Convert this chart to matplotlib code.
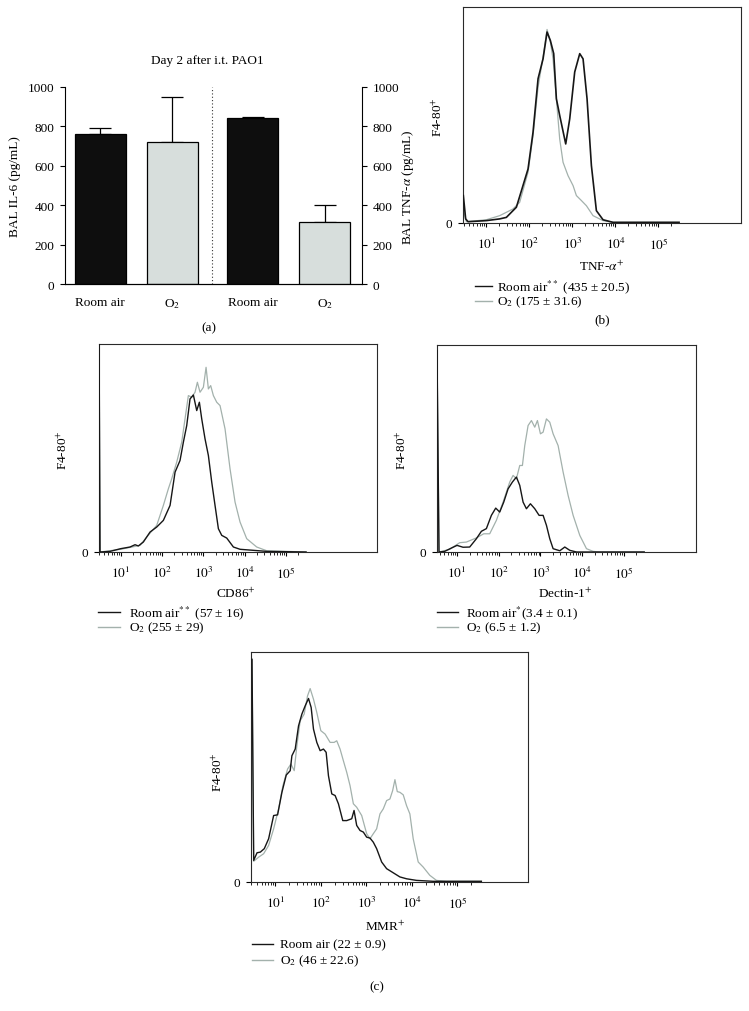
import numpy as np
import matplotlib
matplotlib.use('Agg')
import matplotlib.pyplot as plt
from matplotlib.lines import Line2D
from matplotlib.ticker import FixedLocator, NullFormatter

plt.rcParams['font.family'] = ['Liberation Serif', 'DejaVu Serif']
plt.rcParams['mathtext.fontset'] = 'stix'
plt.rcParams['font.size'] = 9.5

# ---------------- data ----------------
bar_labels = ['Room air', 'O$_2$', 'Room air', 'O$_2$']
il6_means = [762, 720]
il6_err = [28, 227]
tnf_means = [841, 313]
tnf_err = [5, 87]

# histograms: x = log10(fluorescence), y = % of max scale
tnf_room_x = [0.465, 0.519, 0.574, 1.0, 1.31, 1.465, 1.698, 1.969, 2.085, 2.202, 2.318, 2.411, 2.488, 2.566, 2.628,
              2.705, 2.845, 2.938, 3.054, 3.171, 3.248, 3.341, 3.442, 3.558, 3.713, 3.946, 5.48]
tnf_room_y = [12.7, 1.9, 0.6, 1.1, 1.9, 2.6, 7.3, 25.0, 42.0, 66.8, 76.0, 88.4, 84.5, 78.4, 57.5,
              49.8, 36.6, 48.2, 69.9, 78.4, 76.0, 57.5, 26.6, 5.7, 1.5, 0.3, 0.3]
tnf_o2_x = [0.465, 0.535, 1.0, 1.31, 1.62, 1.775, 1.969, 2.085, 2.202, 2.318, 2.411, 2.488, 2.55, 2.628, 2.705,
            2.783, 2.899, 3.016, 3.093, 3.209, 3.326, 3.48, 3.713, 3.946, 5.48]
tnf_o2_y = [6.0, 0.6, 1.5, 3.4, 6.5, 9.6, 23.5, 40.5, 62.9, 76.8, 89.6, 83.8, 76.0, 57.5, 38.9,
            28.1, 21.9, 17.3, 12.7, 10.4, 8.0, 3.4, 1.1, 0.3, 0.3]

cd86_room_x = [0.476, 0.5, 0.742, 1.0, 1.226, 1.347, 1.427, 1.548, 1.71, 1.871, 2.032, 2.194, 2.315, 2.435, 2.516,
               2.597, 2.677, 2.758, 2.839, 2.903, 2.96, 3.04, 3.121, 3.202, 3.282, 3.363, 3.444, 3.565, 3.726,
               3.887, 4.21, 4.532, 5.484]
cd86_room_y = [105, 0, 0.3, 1.6, 2.4, 3.5, 2.9, 4.8, 9.6, 12.0, 15.2, 22.4, 38.4, 44.0, 52.8,
               60.8, 73.6, 75.5, 68.0, 72.0, 64.0, 54.4, 46.4, 33.6, 22.4, 11.2, 8.0, 6.7, 2.4,
               1.3, 0.8, 0.3, 0]
cd86_o2_x = [0.476, 0.5, 1.0, 1.468, 1.629, 1.871, 2.032, 2.153, 2.234, 2.355, 2.476, 2.556, 2.637, 2.718, 2.798,
             2.855, 2.919, 3.0, 3.065, 3.121, 3.177, 3.242, 3.323, 3.403, 3.524, 3.645, 3.766, 3.887, 4.048,
             4.29, 4.532, 5.484]
cd86_o2_y = [105, 0, 1.3, 3.2, 7.2, 12.8, 22.4, 30.4, 35.2, 43.2, 52.8, 64.0, 75.2, 74.4, 76.8,
             81.6, 76.8, 79.2, 88.8, 78.4, 80.0, 75.2, 72.0, 70.4, 59.2, 40.0, 24.0, 14.4, 6.4,
             2.4, 0.6, 0]

dec_room_x = [0.52, 0.568, 0.704, 0.864, 1.0, 1.144, 1.304, 1.464, 1.584, 1.704, 1.824, 1.928, 2.024, 2.12, 2.224,
              2.328, 2.424, 2.504, 2.584, 2.664, 2.76, 2.864, 2.968, 3.064, 3.144, 3.224, 3.304, 3.464, 3.584,
              3.704, 3.864, 5.488]
dec_room_y = [97.3, 0, 0.3, 1.9, 3.2, 2.3, 2.4, 6.4, 10.0, 11.3, 17.7, 21.2, 19.3, 24.1, 30.5,
              33.8, 36.2, 32.2, 24.1, 20.9, 23.3, 20.9, 17.7, 17.7, 12.9, 6.4, 1.6, 0.6, 2.4,
              0.8, 0, 0]
dec_o2_x = [0.52, 0.568, 0.824, 1.064, 1.224, 1.464, 1.64, 1.784, 1.944, 2.104, 2.264, 2.344, 2.424, 2.504, 2.568,
            2.624, 2.704, 2.784, 2.864, 2.928, 3.0, 3.064, 3.144, 3.224, 3.304, 3.424, 3.544, 3.664, 3.784,
            3.944, 4.104, 4.264, 4.424, 5.488]
dec_o2_y = [97.3, 0, 1.3, 4.5, 4.8, 6.8, 8.8, 8.8, 15.3, 24.1, 33.8, 37.0, 35.4, 41.8, 41.8,
            51.4, 61.1, 63.5, 60.3, 63.5, 57.1, 57.9, 64.3, 62.7, 57.1, 51.4, 38.6, 27.3, 17.7,
            8.0, 1.6, 0.3, 0, 0]

mmr_room_x = [0.489, 0.526, 0.599, 0.672, 0.759, 0.854, 0.964, 1.051, 1.146, 1.241, 1.328, 1.365, 1.438, 1.511,
              1.584, 1.657, 1.73, 1.788, 1.839, 1.912, 1.985, 2.058, 2.117, 2.168, 2.241, 2.314, 2.387, 2.482,
              2.569, 2.679, 2.73, 2.788, 2.861, 2.934, 3.007, 3.08, 3.153, 3.226, 3.336, 3.445, 3.591, 3.737,
              3.883, 4.102, 4.467, 5.526]
mmr_room_y = [96.8, 9.4, 12.7, 13.0, 14.5, 18.8, 28.9, 29.2, 39.0, 46.5, 48.4, 54.9, 57.8, 67.9,
              73.0, 76.6, 79.8, 75.9, 66.5, 60.7, 57.1, 57.8, 56.4, 46.2, 38.3, 37.6, 34.0, 26.7,
              26.7, 27.5, 31.1, 24.6, 22.4, 21.7, 19.5, 19.1, 17.3, 14.5, 8.7, 5.8, 4.0, 2.2,
              1.4, 0.7, 0.3, 0.3]
mmr_o2_x = [0.489, 0.526, 0.635, 0.745, 0.854, 0.964, 1.073, 1.168, 1.27, 1.343, 1.416, 1.474, 1.547, 1.635,
            1.708, 1.766, 1.839, 1.912, 2.0, 2.095, 2.204, 2.292, 2.35, 2.423, 2.496, 2.569, 2.642, 2.715,
            2.788, 2.898, 3.007, 3.08, 3.153, 3.226, 3.299, 3.372, 3.445, 3.518, 3.577, 3.628, 3.679, 3.737,
            3.81, 3.883, 3.956, 4.029, 4.139, 4.248, 4.394, 4.54, 4.759, 5.526]
mmr_o2_y = [96.8, 9.0, 10.8, 12.3, 15.9, 23.1, 31.8, 41.9, 49.1, 51.3, 48.4, 59.2, 70.1, 73.0,
            80.9, 84.1, 79.5, 73.7, 65.8, 64.3, 60.7, 60.7, 61.4, 57.8, 52.7, 47.7, 41.9, 34.0,
            32.5, 28.9, 21.0, 18.8, 21.0, 23.1, 29.6, 31.8, 35.4, 36.1, 39.7, 44.5, 39.3, 39.0,
            37.9, 33.2, 29.6, 18.8, 8.7, 6.5, 2.9, 0.7, 0.3, 0.3]

tnf_legend = ['Room air$^{**}$ (435 ± 20.5)', 'O$_2$ (175 ± 31.6)']
cd86_legend = ['Room air$^{**}$ (57 ± 16)', 'O$_2$ (255 ± 29)']
dec_legend = ['Room air$^{*}$(3.4 ± 0.1)', 'O$_2$ (6.5 ± 1.2)']
mmr_legend = ['Room air (22 ± 0.9)', 'O$_2$ (46 ± 22.6)']

# ---------------- style ----------------
BLACK = '#161616'
GRAY = '#a3b1ac'
BAR_DARK = '#0e0e0e'
BAR_LIGHT = '#d7dedc'
FS = 9.5

W, H = 749, 1012
fig = plt.figure(figsize=(W / 100, H / 100), dpi=100)


def ax_px(l, t, r, b):
    return fig.add_axes([l / W, 1 - b / H, (r - l) / W, (b - t) / H])


def txt(x, y, s, ha='center', va='center', **kw):
    fig.text(x / W, 1 - y / H, s, ha=ha, va=va, fontsize=kw.pop('fontsize', FS), **kw)


# ---------------- panel (a) ----------------
bar_pos = [0.49, 1.49, 2.61, 3.61]
bw = 0.71
axa = ax_px(65, 88, 362, 285)
axa.bar(bar_pos[:2], il6_means, width=bw, color=[BAR_DARK, BAR_LIGHT], edgecolor='black', linewidth=0.9, zorder=2)
axa.errorbar(bar_pos[:2], il6_means, yerr=[[0, 0], il6_err], fmt='none', ecolor='black',
             elinewidth=0.9, capsize=8, capthick=0.9, zorder=1)
axr = axa.twinx()
axr.bar(bar_pos[2:], tnf_means, width=bw, color=[BAR_DARK, BAR_LIGHT], edgecolor='black', linewidth=0.9, zorder=2)
axr.errorbar(bar_pos[2:], tnf_means, yerr=[[0, 0], tnf_err], fmt='none', ecolor='black',
             elinewidth=0.9, capsize=8, capthick=0.9, zorder=1)
for a in (axa, axr):
    a.set_xlim(0, 4.125)
    a.set_ylim(0, 1000)
    a.set_yticks([0, 200, 400, 600, 800, 1000])
    a.spines['top'].set_visible(False)
    a.tick_params(axis='y', direction='out', length=3.6, width=0.8, pad=4, labelsize=FS)
    for s in a.spines.values():
        s.set_linewidth(0.8)
axa.spines['right'].set_visible(False)
axr.spines['left'].set_visible(False)
axa.set_xticks(bar_pos)
axa.set_xticklabels(bar_labels, fontsize=FS)
axa.tick_params(axis='x', length=0, pad=9)
axr.tick_params(axis='x', length=0)
axa.axvline(2.04, ymin=0, ymax=1.0, ls=(0, (1, 2)), color='#333333', lw=0.8)

txt(207, 61, 'Day 2 after i.t. PAO1')
txt(15, 187, 'BAL IL-6 (pg/mL)', rotation=90)
txt(408, 187, r'BAL TNF-$\alpha$ (pg/mL)', rotation=90)
txt(209, 328, '(a)')


# ---------------- histogram panels ----------------
def hist_panel(box, lims, rx, ry, ox, oy, lw_black=1.0):
    ax = ax_px(*box)
    ax.plot(10 ** np.array(ox), oy, color=GRAY, lw=0.9, zorder=2)
    ax.plot(10 ** np.array(rx), ry, color=BLACK, lw=lw_black, zorder=3)
    ax.set_xscale('log')
    ax.set_xlim(10 ** lims[0], 10 ** lims[1])
    ax.set_ylim(0, 100)
    ax.xaxis.set_major_locator(FixedLocator([10.0 ** k for k in range(1, 6)]))
    ax.set_xticklabels(['$10^{%d}$' % k for k in range(1, 6)])
    minors = [m * 10.0 ** k for k in range(0, 6) for m in range(2, 10)
              if lims[0] <= np.log10(m * 10.0 ** k) <= 5.45]
    ax.xaxis.set_minor_locator(FixedLocator(minors))
    ax.xaxis.set_minor_formatter(NullFormatter())
    ax.tick_params(axis='x', which='major', direction='out', length=3.2, width=0.8, pad=6, labelsize=FS)
    ax.tick_params(axis='x', which='minor', direction='out', length=1.8, width=0.6)
    ax.set_yticks([0])
    ax.set_yticklabels(['0'])
    ax.tick_params(axis='y', direction='out', length=3.6, width=0.8, pad=4, labelsize=FS)
    for s in ax.spines.values():
        s.set_linewidth(0.8)
        s.set_color('#2a2a2a')
    return ax


def legend_px(x0, x1, xt, y1, y2, labels):
    for y, c, lab in ((y1, BLACK, labels[0]), (y2, GRAY, labels[1])):
        fig.add_artist(Line2D([x0 / W, x1 / W], [1 - y / H, 1 - y / H], color=c, lw=1.0,
                              transform=fig.transFigure))
        txt(xt, y, lab, ha='left')


# (b) TNF-alpha
hist_panel((463, 8, 741, 224), (0.457, 6.92), tnf_room_x, tnf_room_y, tnf_o2_x, tnf_o2_y, lw_black=1.2)
txt(438, 117, 'F4-80$^{+}$', rotation=90)
txt(602, 267, r'TNF-$\alpha^{+}$')
legend_px(475, 492, 497, 287, 302, tnf_legend)
txt(602, 320, '(b)')

# CD86
hist_panel((99, 345, 377, 553), (0.475, 7.2), cd86_room_x, cd86_room_y, cd86_o2_x, cd86_o2_y)
txt(63, 450, 'F4-80$^{+}$', rotation=90)
txt(236, 594, 'CD86$^{+}$')
legend_px(98, 120, 129, 613, 628, cd86_legend)

# Dectin-1
hist_panel((437, 346, 696, 553), (0.52, 6.73), dec_room_x, dec_room_y, dec_o2_x, dec_o2_y)
txt(402, 450, 'F4-80$^{+}$', rotation=90)
txt(565, 594, 'Dectin-1$^{+}$')
legend_px(437, 458, 466, 613, 628, dec_legend)

# MMR
hist_panel((251, 653, 528, 883), (0.467, 6.55), mmr_room_x, mmr_room_y, mmr_o2_x, mmr_o2_y)
txt(218, 772, 'F4-80$^{+}$', rotation=90)
txt(385, 927, 'MMR$^{+}$')
legend_px(252, 273, 280, 945, 961, mmr_legend)
txt(377, 987, '(c)')

fig.savefig('out.png', dpi=100)
